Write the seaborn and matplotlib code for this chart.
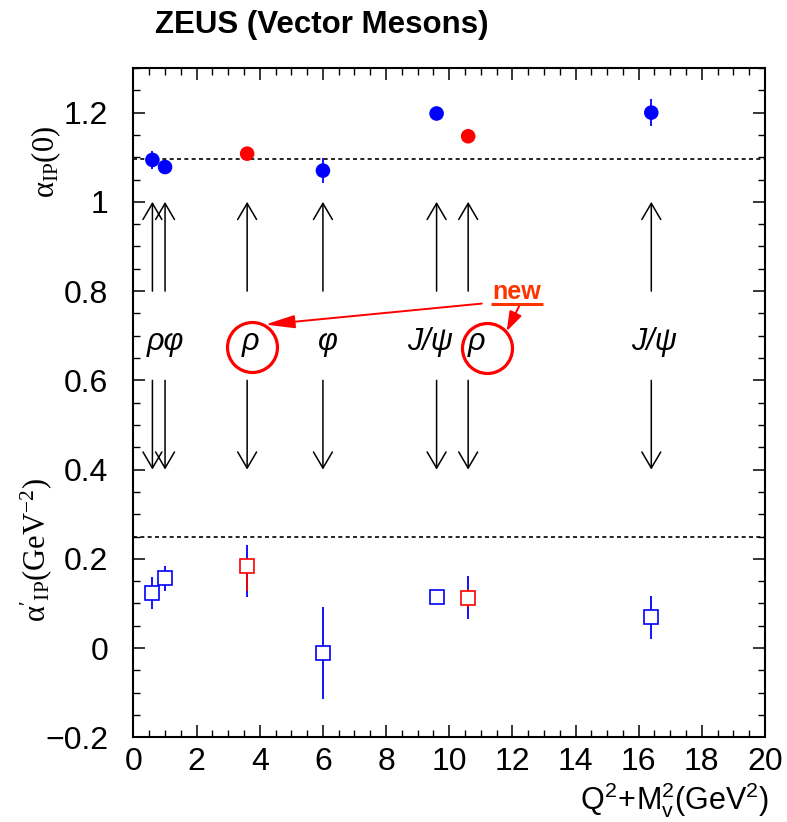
import numpy as np
import pandas as pd
import seaborn as sns
import matplotlib
matplotlib.use("Agg")
import matplotlib.pyplot as plt
from matplotlib.ticker import MultipleLocator

# ---- data -------------------------------------------------------------
x_vm = [0.6, 1.0, 3.6, 6.0, 9.6, 10.6, 16.4]          # Q^2 + M_V^2 (GeV^2)
is_new = [False, False, True, False, False, True, False]
alpha0 = [1.094, 1.078, 1.108, 1.070, 1.198, 1.147, 1.200]
alpha0_err = [0.020, 0.0, 0.0, 0.028, 0.0, 0.0, 0.030]
alphap = [0.123, 0.156, 0.184, -0.011, 0.114, 0.113, 0.069]
alphap_lo = [0.036, 0.027, 0.070, 0.102, 0.0, 0.048, 0.048]
alphap_hi = [0.037, 0.028, 0.047, 0.103, 0.0, 0.049, 0.048]
# inner (red) error segments of the new points
alphap_new_lo = [0.0, 0.0, 0.057, 0.0, 0.0, 0.020, 0.0]
alphap_new_hi = [0.0, 0.0, 0.015, 0.0, 0.0, 0.020, 0.0]

soft_alpha0 = 1.096
soft_alphap = 0.25

meson_labels = ["ρφ", "ρ", "φ", "J/ψ", "ρ", "J/ψ"]
label_x = [1.0, 3.7, 6.15, 9.4, 10.87, 16.5]
arrow_x = x_vm

x_ticks = [0, 2, 4, 6, 8, 10, 12, 14, 16, 18, 20]
y_ticks = [-0.2, 0, 0.2, 0.4, 0.6, 0.8, 1.0, 1.2]
y_ticklabels = ["\u22120.2", "0", "0.2", "0.4", "0.6", "0.8", "1", "1.2"]

BLUE = "#0000FF"
RED = "#FF0000"
NEW = "#FF3300"

# ---- style ------------------------------------------------------------
sns.set_theme(style="ticks")
plt.rcParams.update({
    "font.family": ["Liberation Sans", "DejaVu Sans"],
    "text.color": "black",
    "axes.labelcolor": "black",
    "mathtext.fontset": "custom",
    "mathtext.rm": "Liberation Serif",
    "mathtext.it": "Liberation Serif:italic",
    "mathtext.bf": "Liberation Serif:bold",
    "axes.linewidth": 1.5,
    "axes.edgecolor": "black",
    "xtick.direction": "in",
    "ytick.direction": "in",
    "xtick.top": True,
    "ytick.right": True,
    "xtick.major.size": 8.6,
    "ytick.major.size": 8.6,
    "xtick.minor.size": 4.7,
    "ytick.minor.size": 4.7,
    "xtick.major.width": 1.1,
    "ytick.major.width": 1.1,
    "xtick.minor.width": 1.0,
    "ytick.minor.width": 1.0,
    "xtick.color": "black",
    "ytick.color": "black",
    "xtick.labelcolor": "black",
    "ytick.labelcolor": "black",
})

fig = plt.figure(figsize=(7.87, 8.22), dpi=100)
ax = fig.add_axes([0.1696, 0.1030, 0.8024, 0.8143])

df = pd.DataFrame({"x": x_vm, "alpha0": alpha0, "alphap": alphap,
                   "group": ["new" if n else "old" for n in is_new]})

# reference lines of the soft pomeron
ax.axhline(soft_alpha0, color="black", lw=1.2, ls=(0, (2.4, 2.0)), zorder=1)
ax.axhline(soft_alphap, color="black", lw=1.2, ls=(0, (2.4, 2.0)), zorder=1)

# alpha(0): error bars + filled circles
for xi, yi, ei, n in zip(x_vm, alpha0, alpha0_err, is_new):
    if ei > 0:
        ax.errorbar(xi, yi, yerr=ei, fmt="none", ecolor=RED if n else BLUE,
                    elinewidth=1.3, capsize=0, zorder=2)
sns.scatterplot(data=df, x="x", y="alpha0", hue="group",
                palette={"old": BLUE, "new": RED}, s=110, linewidth=0,
                legend=False, ax=ax, zorder=3)

# alpha': error bars + open squares
for i, (xi, yi) in enumerate(zip(x_vm, alphap)):
    col = RED if is_new[i] else BLUE
    ax.errorbar(xi, yi, yerr=[[alphap_lo[i]], [alphap_hi[i]]], fmt="none",
                ecolor=BLUE, elinewidth=1.3, capsize=0, zorder=2)
    if is_new[i]:
        ax.errorbar(xi, yi, yerr=[[alphap_new_lo[i]], [alphap_new_hi[i]]],
                    fmt="none", ecolor=RED, elinewidth=1.3, capsize=0, zorder=2.5)
    ax.plot(xi, yi, marker="s", ms=9.7, mfc="white", mec=col, mew=1.2,
            ls="none", zorder=3)

# arrows pointing to both panels
for xa in arrow_x:
    for y0, y1 in [(0.8, 1.0), (0.6, 0.4)]:
        ax.annotate("", xy=(xa, y1), xytext=(xa, y0),
                    arrowprops=dict(arrowstyle="->,head_length=0.58,head_width=0.34",
                                    lw=1.1, color="black", shrinkA=0, shrinkB=0,
                                    mutation_scale=20), zorder=2)

# meson labels
for lx, lab in zip(label_x, meson_labels):
    ax.text(lx, 0.668, lab, ha="center", va="baseline", fontsize=22,
            fontstyle="italic", color="black",
            family=["Liberation Sans", "DejaVu Sans"], zorder=4)

# highlight the new measurements
for cx, cy in [(3.74, 0.675), (11.2, 0.673)]:
    ax.plot(cx, cy, marker="o", ms=36, mfc="none", mec=RED, mew=2.3,
            ls="none", zorder=4)
ax.annotate("", xy=(4.17, 0.725), xytext=(11.03, 0.772),
            arrowprops=dict(arrowstyle="-|>,head_length=0.9,head_width=0.2",
                            lw=1.4, color=RED, shrinkA=0, shrinkB=0,
                            mutation_scale=20), zorder=4)
ax.annotate("", xy=(11.82, 0.710), xytext=(12.24, 0.770),
            arrowprops=dict(arrowstyle="-|>,head_length=0.6,head_width=0.2",
                            lw=1.4, color=RED, shrinkA=0, shrinkB=0,
                            mutation_scale=20), zorder=4)
ax.text(12.14, 0.782, "new", color=NEW, fontsize=18, fontweight="bold",
        ha="center", va="baseline", zorder=4)
ax.plot([11.32, 12.97], [0.771, 0.771], color=NEW, lw=2.2,
        solid_capstyle="butt", zorder=4)

# axes
ax.set_xlim(0, 20)
ax.set_ylim(-0.2, 1.3)
ax.set_xticks(x_ticks)
ax.set_xticklabels([str(t) for t in x_ticks])
ax.set_yticks(y_ticks)
ax.set_yticklabels(y_ticklabels)
ax.xaxis.set_minor_locator(MultipleLocator(0.5))
ax.yaxis.set_minor_locator(MultipleLocator(0.05))
ax.tick_params(axis="both", which="both", top=True, right=True)
ax.tick_params(axis="x", labelsize=23, pad=7)
ax.tick_params(axis="y", labelsize=23, pad=18)
ax.set_xlabel("")
ax.set_ylabel("")
for s in ax.spines.values():
    s.set_visible(True)
    s.set_linewidth(1.5)

fig.text(155 / 787, 1 - 25 / 822, "ZEUS (Vector Mesons)", fontsize=22.5,
         fontweight="bold", ha="left", va="center", color="black")
fig.text(1.0 - 18 / 787, 1 - 800 / 822,
         r"$\mathregular{Q^2\!+\!M_v^2(GeV^2)}$", fontsize=22,
         ha="right", va="center", family="Liberation Sans", color="black")
fig.text(46 / 787, 1 - 162 / 822, r"$\mathrm{\alpha_{IP}(0)}$", fontsize=22,
         rotation=90, ha="center", va="center", color="black")
fig.text(36 / 787, 1 - 550 / 822, r"$\mathrm{\alpha'_{IP}(GeV^{-2})}$",
         fontsize=22, rotation=90, ha="center", va="center", color="black")

fig.savefig("out.png", dpi=100)
